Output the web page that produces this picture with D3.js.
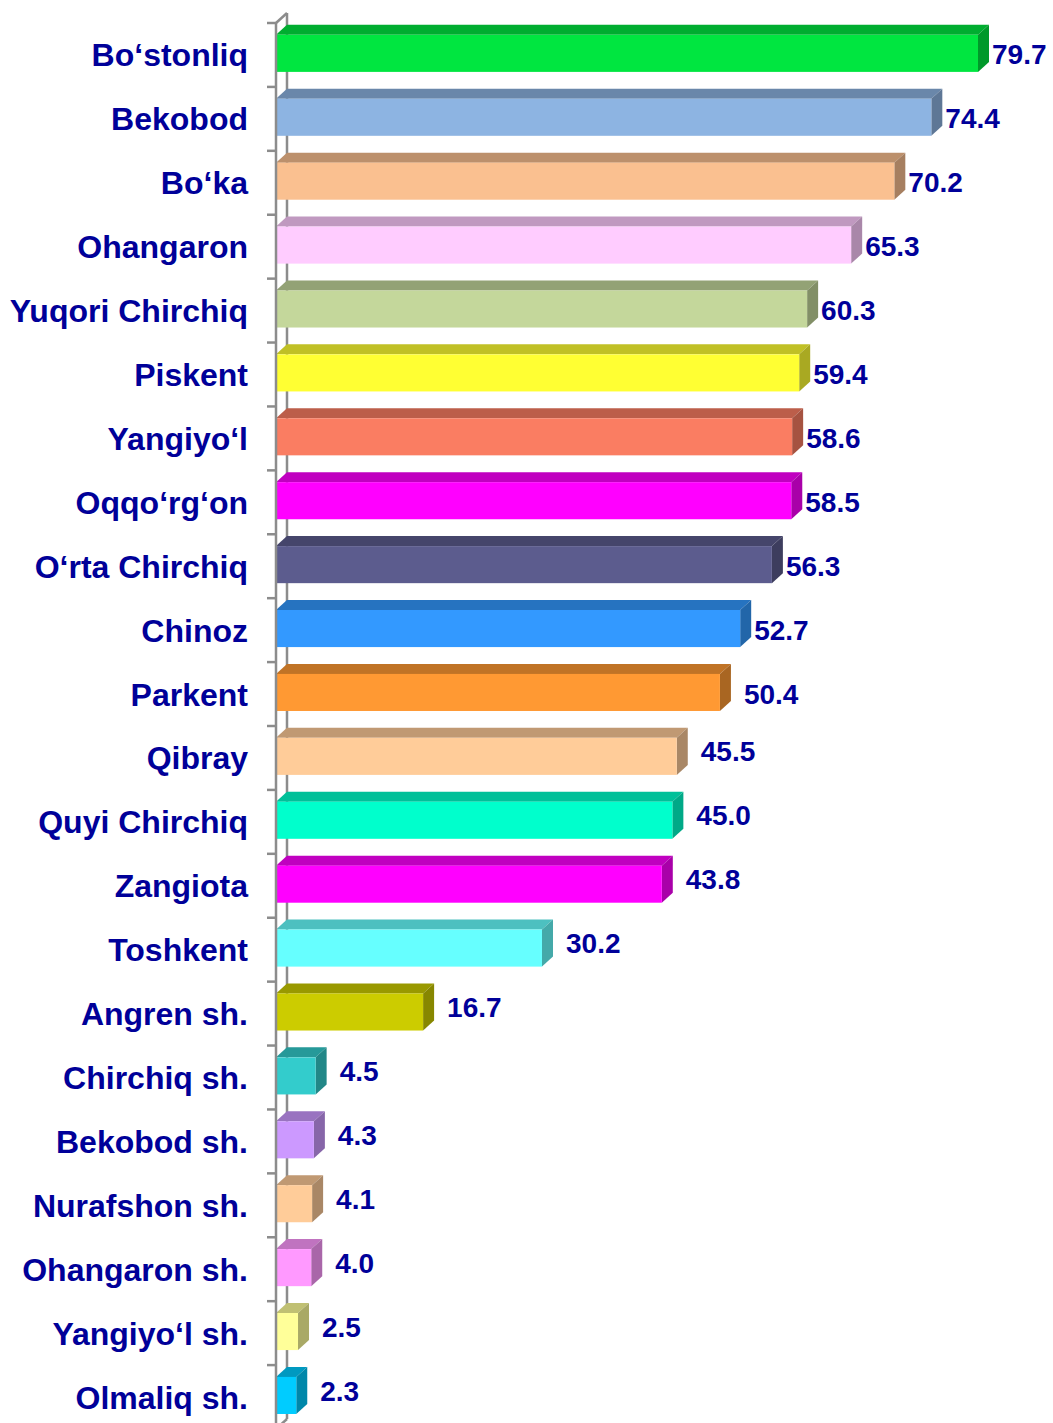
<!DOCTYPE html>
<html>
<head>
<meta charset="utf-8">
<script src="https://cdn.jsdelivr.net/npm/d3@7"></script>
<style>
  html, body { margin: 0; padding: 0; background: #fff; }
  #wrapper { width: 1053px; height: 1423px; overflow: hidden; }
  text { font-family: "Liberation Sans", Arial, sans-serif; font-weight: bold; fill: #000099; }
</style>
</head>
<body>
<div id="wrapper"></div>
<script>
const districts = [
  "Bo‘stonliq", "Bekobod", "Bo‘ka", "Ohangaron", "Yuqori Chirchiq", "Piskent",
  "Yangiyo‘l", "Oqqo‘rg‘on", "O‘rta Chirchiq", "Chinoz", "Parkent", "Qibray",
  "Quyi Chirchiq", "Zangiota", "Toshkent", "Angren sh.", "Chirchiq sh.",
  "Bekobod sh.", "Nurafshon sh.", "Ohangaron sh.", "Yangiyo‘l sh.", "Olmaliq sh."
]

const values = [
  79.7, 74.4, 70.2, 65.3, 60.3, 59.4, 58.6, 58.5, 56.3, 52.7, 50.4, 45.5,
  45.0, 43.8, 30.2, 16.7, 4.5, 4.3, 4.1, 4.0, 2.5, 2.3
]

const barColors = [
  "#00e640", "#8db4e2", "#fac090", "#ffccff", "#c4d79b", "#ffff33",
  "#fa7d62", "#ff00ff", "#5c5c8e", "#3399ff", "#ff9933", "#ffcc99",
  "#00ffcc", "#ff00ff", "#66ffff", "#cccc00", "#33cccc", "#cc99ff",
  "#ffcc99", "#ff99ff", "#ffff99", "#00ccff"
]

const dataset = districts.map((name, i) => ({
  name: name,
  value: values[i],
  color: barColors[i]
}))

// dimensions
const dimensions = {
  width: 1053,
  height: 1423,
  margin: { top: 23, left: 276 }
}
const depth = { dx: 11, dy: -10 }

const wrapper = d3.select("#wrapper")
  .append("svg")
  .attr("width", dimensions.width)
  .attr("height", dimensions.height)

// scales
const yScale = d3.scaleBand()
  .domain(districts)
  .range([dimensions.margin.top, 1429])

const xScale = d3.scaleLinear()
  .domain([0, 79.7])
  .range([dimensions.margin.left, 978])

const x0 = xScale(0)
const y0 = yScale.range()[0]
const y1 = yScale.range()[1]
const bw = yScale.bandwidth()
const barOffset = bw * 0.185
const barHeight = bw * 0.58

// wall / axis
const axisColor = "#8c8c8c"
const axis = wrapper.append("g")
  .attr("class", "axis")
  .attr("fill", "none")
  .attr("stroke", axisColor)
  .attr("stroke-width", 2.5)

axis.append("line")
  .attr("x1", x0 + depth.dx).attr("x2", x0 + depth.dx)
  .attr("y1", y0 + depth.dy).attr("y2", y1 + depth.dy)
axis.append("path")
  .attr("d", `M${x0},${y0} L${x0 + depth.dx},${y0 + depth.dy}`)
axis.append("path")
  .attr("d", `M${x0},${y1} L${x0 + depth.dx},${y1 + depth.dy}`)

// bars
const bars = wrapper.append("g")
  .attr("class", "bars")
  .selectAll("g")
  .data(dataset)
  .join("g")

const barTop = d => yScale(d.name) + barOffset
const barRight = d => xScale(d.value)

bars.append("polygon")
  .attr("points", d => [
    [x0, barTop(d)],
    [x0 + depth.dx, barTop(d) + depth.dy],
    [barRight(d) + depth.dx, barTop(d) + depth.dy],
    [barRight(d), barTop(d)]
  ].join(" "))
  .attr("fill", d => d3.color(d.color).darker(0.8))

bars.append("polygon")
  .attr("points", d => [
    [barRight(d), barTop(d)],
    [barRight(d) + depth.dx, barTop(d) + depth.dy],
    [barRight(d) + depth.dx, barTop(d) + depth.dy + barHeight],
    [barRight(d), barTop(d) + barHeight]
  ].join(" "))
  .attr("fill", d => d3.color(d.color).darker(1.15))

bars.append("rect")
  .attr("x", x0)
  .attr("y", d => barTop(d))
  .attr("width", d => barRight(d) - x0)
  .attr("height", barHeight)
  .attr("fill", d => d.color)

// front axis line + ticks drawn on top of bars
const front = wrapper.append("g")
  .attr("stroke", axisColor)
  .attr("stroke-width", 2.5)

front.append("line")
  .attr("x1", x0).attr("x2", x0)
  .attr("y1", y0).attr("y2", y1)

const ticks = districts.map(d => yScale(d)).concat([y1])
front.selectAll(".tick")
  .data(ticks)
  .join("line")
  .attr("class", "tick")
  .attr("x1", x0 - 9).attr("x2", x0)
  .attr("y1", d => d).attr("y2", d => d)

// category labels
wrapper.append("g")
  .selectAll("text")
  .data(dataset)
  .join("text")
  .attr("x", 248)
  .attr("y", d => yScale(d.name) + bw / 2)
  .attr("dy", "0.36em")
  .attr("text-anchor", "end")
  .style("font-size", "32px")
  .text(d => d.name)

// value labels
wrapper.append("g")
  .selectAll("text")
  .data(dataset)
  .join("text")
  .attr("x", d => barRight(d) + depth.dx + (d.value > 52 ? 3 : 13))
  .attr("y", d => barTop(d) + barHeight / 2 + (d.value > 48 ? 1 : -5))
  .attr("dy", "0.36em")
  .style("font-size", "28px")
  .text(d => d3.format(".1f")(d.value))
</script>
</body>
</html>
